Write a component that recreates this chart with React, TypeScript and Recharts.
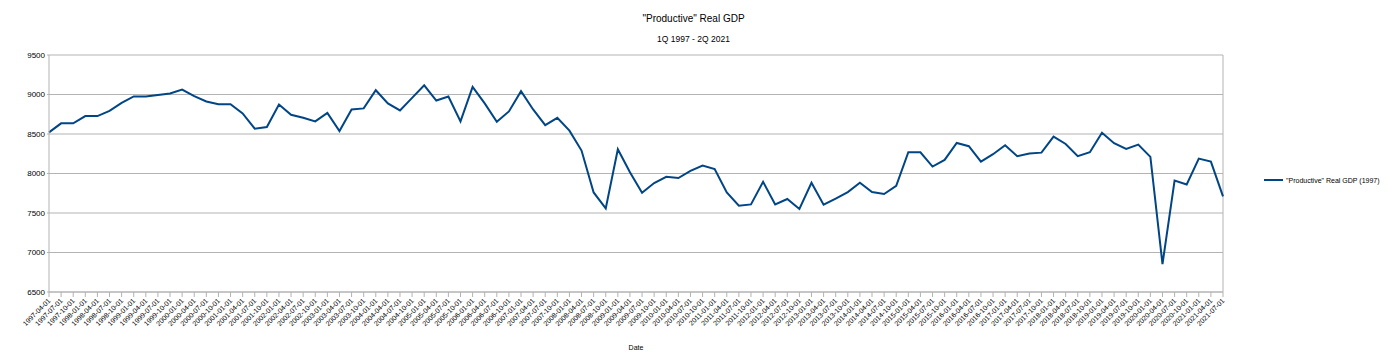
import React from "react";
import {
  LineChart,
  Line,
  XAxis,
  YAxis,
  CartesianGrid,
  Legend,
  ReferenceLine,
} from "recharts";

const DATES = [
  "1997-04-01", "1997-07-01", "1997-10-01",
  "1998-01-01", "1998-04-01", "1998-07-01", "1998-10-01",
  "1999-01-01", "1999-04-01", "1999-07-01", "1999-10-01",
  "2000-01-01", "2000-04-01", "2000-07-01", "2000-10-01",
  "2001-01-01", "2001-04-01", "2001-07-01", "2001-10-01",
  "2002-01-01", "2002-04-01", "2002-07-01", "2002-10-01",
  "2003-01-01", "2003-04-01", "2003-07-01", "2003-10-01",
  "2004-01-01", "2004-04-01", "2004-07-01", "2004-10-01",
  "2005-01-01", "2005-04-01", "2005-07-01", "2005-10-01",
  "2006-01-01", "2006-04-01", "2006-07-01", "2006-10-01",
  "2007-01-01", "2007-04-01", "2007-07-01", "2007-10-01",
  "2008-01-01", "2008-04-01", "2008-07-01", "2008-10-01",
  "2009-01-01", "2009-04-01", "2009-07-01", "2009-10-01",
  "2010-01-01", "2010-04-01", "2010-07-01", "2010-10-01",
  "2011-01-01", "2011-04-01", "2011-07-01", "2011-10-01",
  "2012-01-01", "2012-04-01", "2012-07-01", "2012-10-01",
  "2013-01-01", "2013-04-01", "2013-07-01", "2013-10-01",
  "2014-01-01", "2014-04-01", "2014-07-01", "2014-10-01",
  "2015-01-01", "2015-04-01", "2015-07-01", "2015-10-01",
  "2016-01-01", "2016-04-01", "2016-07-01", "2016-10-01",
  "2017-01-01", "2017-04-01", "2017-07-01", "2017-10-01",
  "2018-01-01", "2018-04-01", "2018-07-01", "2018-10-01",
  "2019-01-01", "2019-04-01", "2019-07-01", "2019-10-01",
  "2020-01-01", "2020-04-01", "2020-07-01", "2020-10-01",
  "2021-01-01", "2021-04-01", "2021-07-01",
];

// "Productive" Real GDP (1997 dollars)
const GDP = [
  8520, 8635, 8635,
  8727, 8727, 8793, 8894,
  8975, 8975, 8995, 9013,
  9063, 8979, 8912, 8878,
  8878, 8760, 8567, 8588,
  8874, 8743, 8705, 8660,
  8768, 8538, 8811, 8824,
  9054, 8887, 8798, 8958,
  9117, 8924, 8975, 8660,
  9096, 8887, 8655, 8786,
  9042, 8811, 8613, 8705,
  8542, 8290, 7760, 7559,
  8307, 8017, 7756, 7879,
  7958, 7942, 8034, 8100,
  8055, 7760, 7593, 7609,
  7895, 7609, 7677, 7551,
  7882, 7605, 7681, 7765,
  7882, 7765, 7740, 7845,
  8269, 8269, 8088, 8172,
  8386, 8345, 8151, 8244,
  8357, 8219, 8252, 8264,
  8466, 8374, 8219, 8269,
  8516, 8383, 8311, 8365,
  8210, 6853, 7911, 7861,
  8189, 8151, 7710,
];

const Y_TICKS = [6500, 7000, 7500, 8000, 8500, 9000, 9500];

const SERIES_NAME = '"Productive" Real GDP (1997)';
const LINE_COLOR = "#004586";
const GRID = "#b3b3b3";
const FONT = "'Liberation Sans', Arial, sans-serif";

const data = DATES.map((date, i) => ({ date, gdp: GDP[i] }));

const DateTick = ({ x, y, payload }: any) => (
  <g transform={`translate(${x},${y})`}>
    <text
      x={0}
      y={0}
      dy={3}
      textAnchor="end"
      transform="rotate(-45)"
      fontSize={7}
      fill="#000"
      fontFamily={FONT}
    >
      {payload.value}
    </text>
  </g>
);

const LegendContent = () => (
  <div
    style={{
      display: "flex",
      alignItems: "center",
      paddingLeft: 41,
      fontSize: 7,
      fontFamily: FONT,
      color: "#000",
      whiteSpace: "nowrap",
    }}
  >
    <svg width={19} height={4} style={{ marginRight: 3 }}>
      <line x1={0} y1={2} x2={19} y2={2} stroke={LINE_COLOR} strokeWidth={2} />
    </svg>
    <span>{SERIES_NAME}</span>
  </div>
);

export default function App() {
  return (
    <div style={{ position: "relative", width: 1387, height: 360, background: "#fff" }}>
      <style>{"body{margin:0}"}</style>
      <div
        style={{
          position: "absolute",
          top: 12,
          left: 0,
          width: 1387,
          textAlign: "center",
          fontFamily: FONT,
          fontSize: 10,
          lineHeight: "14px",
        }}
      >
        "Productive" Real GDP
      </div>
      <div
        style={{
          position: "absolute",
          top: 33,
          left: 0,
          width: 1387,
          textAlign: "center",
          fontFamily: FONT,
          fontSize: 8.5,
          lineHeight: "12px",
        }}
      >
        1Q 1997 - 2Q 2021
      </div>
      <LineChart
        width={1387}
        height={360}
        data={data}
        margin={{ top: 55, right: 0, bottom: 0, left: 0 }}
      >
        <CartesianGrid vertical={false} stroke={GRID} strokeWidth={1} />
        <XAxis
          dataKey="date"
          interval={0}
          height={68}
          tick={<DateTick />}
          tickSize={5}
          tickMargin={2}
          stroke={GRID}
          axisLine={{ stroke: GRID }}
          tickLine={{ stroke: GRID }}
          label={{
            value: "Date",
            position: "insideBottom",
            offset: 10,
            fontSize: 7,
            fill: "#000",
            fontFamily: FONT,
          }}
        />
        <YAxis
          width={49}
          domain={[6500, 9500]}
          ticks={Y_TICKS}
          interval={0}
          tickSize={2}
          tickMargin={2}
          axisLine={{ stroke: GRID }}
          tickLine={{ stroke: GRID }}
          tick={{ fontSize: 8, fill: "#000", fontFamily: FONT }}
        />
        <ReferenceLine x={DATES[DATES.length - 1]} stroke={GRID} />
        <Legend
          layout="vertical"
          align="right"
          verticalAlign="middle"
          wrapperStyle={{ width: 164 }}
          content={<LegendContent />}
        />
        <Line
          type="linear"
          dataKey="gdp"
          name={SERIES_NAME}
          stroke={LINE_COLOR}
          strokeWidth={2}
          dot={false}
          isAnimationActive={false}
        />
      </LineChart>
    </div>
  );
}
